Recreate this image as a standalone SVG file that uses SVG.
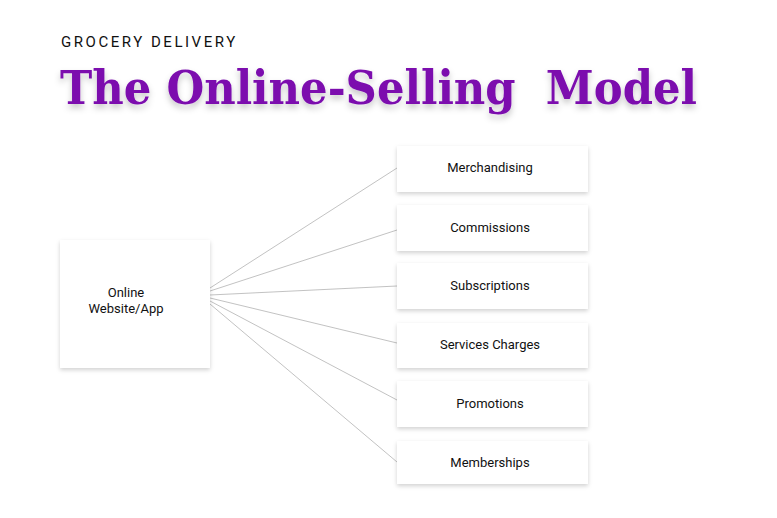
<svg xmlns="http://www.w3.org/2000/svg" width="777" height="518" viewBox="0 0 777 518">
<defs>
<filter id="sh" x="-20%" y="-20%" width="140%" height="150%">
<feDropShadow dx="0" dy="2" stdDeviation="2" flood-color="#000" flood-opacity="0.18"/>
</filter>
<filter id="tsh" x="-5%" y="-20%" width="110%" height="160%">
<feDropShadow dx="0" dy="4" stdDeviation="3" flood-color="#000" flood-opacity="0.22"/>
</filter>
</defs>
<style>
.box{fill:#fff;filter:url(#sh)}
.lbl{font-family:Roboto,"Liberation Sans",sans-serif;font-size:13px;fill:#111;text-anchor:middle}
.con{stroke:#b3b3b3;stroke-width:0.8;fill:none}
</style>
<rect width="777" height="518" fill="#fff"/>
<text x="61" y="46.5" font-family="Roboto,'Liberation Sans',sans-serif" font-size="15" letter-spacing="1.8" fill="#111" textLength="176" lengthAdjust="spacing">GROCERY DELIVERY</text>
<text x="60" y="104" font-family="'DejaVu Serif','Liberation Serif',serif" font-weight="bold" font-size="47" fill="#7B11AE" filter="url(#tsh)" textLength="637" lengthAdjust="spacingAndGlyphs" xml:space="preserve">The Online-Selling  Model</text>
<g id="connectors">
<line class="con" x1="210" y1="288" x2="397" y2="168"/>
<line class="con" x1="210" y1="291" x2="397" y2="230"/>
<line class="con" x1="210" y1="295" x2="397" y2="286"/>
<line class="con" x1="210" y1="298" x2="397" y2="343"/>
<line class="con" x1="210" y1="301" x2="397" y2="400"/>
<line class="con" x1="210" y1="304" x2="397" y2="462"/>
</g>
<g id="online">
<rect class="box" x="60" y="240" width="150" height="128"/>
<text class="lbl" x="126" y="297">Online</text>
<text class="lbl" x="126" y="313">Website/App</text>
</g>
<g id="merchandising">
<rect class="box" x="397" y="146" width="191" height="46"/>
<text class="lbl" x="490" y="172">Merchandising</text>
</g>
<g id="commissions">
<rect class="box" x="397" y="205" width="191" height="46"/>
<text class="lbl" x="490" y="232">Commissions</text>
</g>
<g id="subscriptions">
<rect class="box" x="397" y="263" width="191" height="46"/>
<text class="lbl" x="490" y="290">Subscriptions</text>
</g>
<g id="services">
<rect class="box" x="397" y="323" width="191" height="45"/>
<text class="lbl" x="490" y="349">Services Charges</text>
</g>
<g id="promotions">
<rect class="box" x="397" y="381" width="191" height="46"/>
<text class="lbl" x="490" y="408">Promotions</text>
</g>
<g id="memberships">
<rect class="box" x="397" y="441" width="191" height="43"/>
<text class="lbl" x="490" y="467">Memberships</text>
</g>
</svg>
